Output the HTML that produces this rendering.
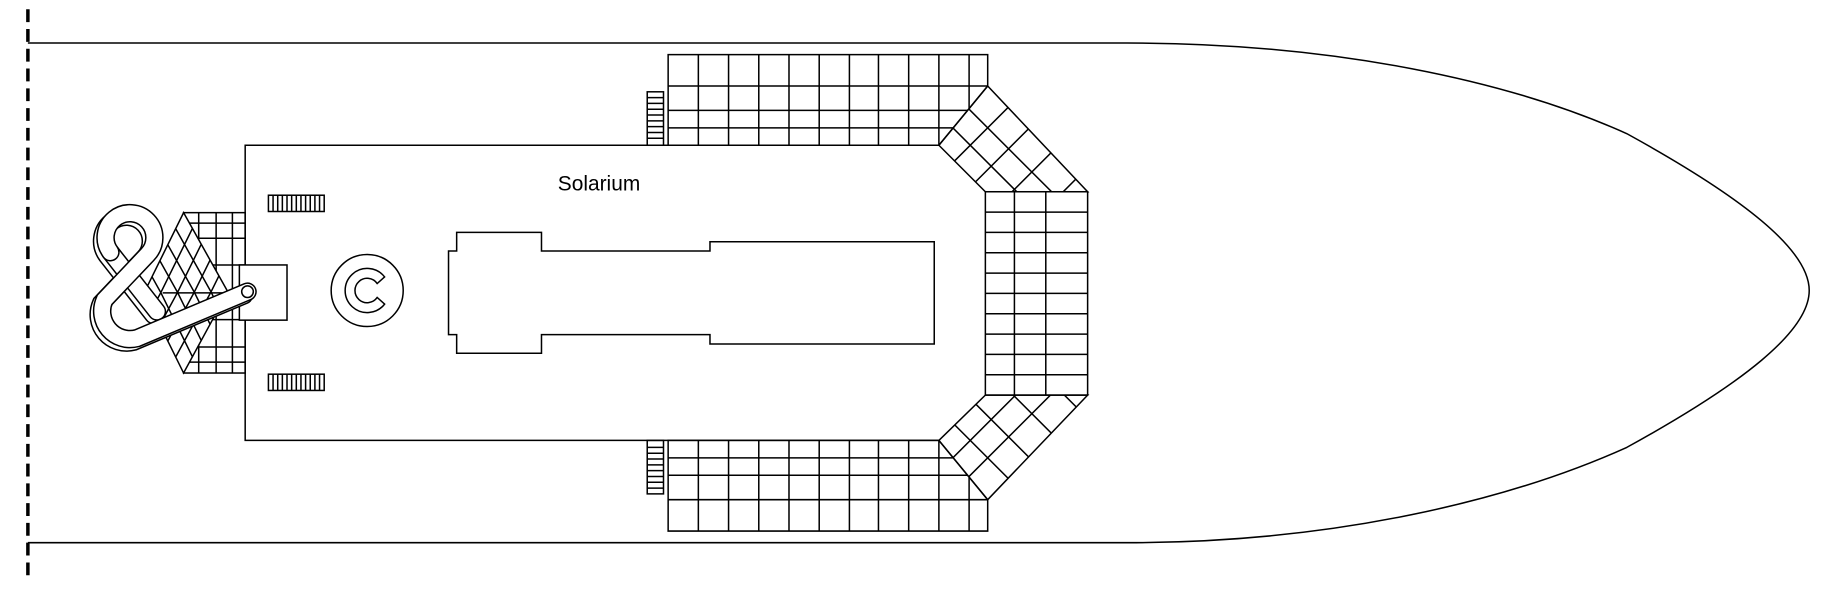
<!DOCTYPE html>
<html><head><meta charset="utf-8"><style>html,body{margin:0;padding:0;background:#fff}svg{display:block}</style></head>
<body>
<svg width="1822" height="598" viewBox="0 0 1568 514.6" preserveAspectRatio="none" xmlns="http://www.w3.org/2000/svg">
<defs>
<clipPath id="dtop"><polygon points="808,125 850,74 936,165 848,165"/></clipPath>
<clipPath id="dbot"><polygon points="808,379 850,430 936,340 848,340"/></clipPath>
<clipPath id="ku"><polygon points="158,183 196,251 124,252"/></clipPath>
<clipPath id="kl"><polygon points="158,321 196,251 124,252"/></clipPath>
</defs>
<g fill="none" stroke="#000" stroke-width="1.3">
<path d="M24,37 L970,37 C1150,37 1300,70 1400,115 C1500,170 1557,215 1557,250 C1557,285 1500,330 1400,385 C1300,430 1150,467 970,467 L24,467"/>
<line x1="24" y1="8" x2="24" y2="497" stroke-width="3" stroke-dasharray="11,6"/>
<path d="M808,125 H211 V379 H808"/>
<polygon points="575,47 850,47 850,74 808,125 575,125"/>
<path d="M575,74 H850 M575,95 H833 M575,110 H820"/>
<path d="M601,47V125 M627,47V125 M653,47V125 M679,47V125 M705,47V125 M731,47V125 M756,47V125 M782,47V125 M808,47V125 M834,47V93"/>
<polygon points="575,457 850,457 850,430 808,379 575,379"/>
<path d="M575,430 H850 M575,409 H833 M575,394 H820"/>
<path d="M601,379V457 M627,379V457 M653,379V457 M679,379V457 M705,379V457 M731,379V457 M756,379V457 M782,379V457 M808,379V457 M834,411V457"/>
<polygon points="808,125 850,74 936,165 848,165"/>
<g clip-path="url(#dtop)">
<path d="M790,120 L900,230 M800,90 L920,210 M820,80 L940,200"/>
<path d="M820,140 L900,60 M838,158 L918,78 M858,178 L938,98 M880,200 L960,120 M902,222 L982,142"/>
</g>
<polygon points="808,379 850,430 936,340 848,340"/>
<g clip-path="url(#dbot)">
<path d="M790,384 L900,274 M800,414 L920,294 M820,424 L940,304"/>
<path d="M820,364 L900,444 M838,346 L918,426 M858,326 L938,406 M880,304 L960,384 M902,282 L982,362"/>
</g>
<rect x="848" y="165" width="88" height="175"/>
<path d="M873,165V340 M900,165V340 M848,182.5H936 M848,200H936 M848,217.5H936 M848,235H936 M848,252.5H936 M848,270H936 M848,287.5H936 M848,305H936 M848,322.5H936"/>
<rect x="557" y="79" width="14" height="46"/>
<path d="M557,84H571 M557,89H571 M557,94H571 M557,99H571 M557,104H571 M557,109H571 M557,114H571 M557,119H571"/>
<rect x="557" y="379" width="14" height="46"/>
<path d="M557,385H571 M557,390H571 M557,395H571 M557,400H571 M557,405H571 M557,410H571 M557,415H571 M557,420H571"/>
<rect x="231" y="168" width="48" height="14"/>
<path d="M235,168V182 M239,168V182 M243,168V182 M247,168V182 M251,168V182 M255,168V182 M259,168V182 M263,168V182 M267,168V182 M271,168V182 M275,168V182"/>
<rect x="231" y="322" width="48" height="14"/>
<path d="M235,322V336 M239,322V336 M243,322V336 M247,322V336 M251,322V336 M255,322V336 M259,322V336 M263,322V336 M267,322V336 M271,322V336 M275,322V336"/>
<path d="M393,200 H466 V216 H611 V208 H804 V296 H611 V288 H466 V304 H393 V288 H386 V216 H393 Z"/>
<circle cx="316" cy="250" r="31"/>
<path d="M331,238.3 A19,19 0 1 0 331,261.7 L324.6,256 A10.5,10.5 0 1 1 324.6,244 Z"/>
<rect x="158" y="183" width="53" height="138"/>
<path d="M158,192H211 M158,205H211 M158,228H211 M158,275H211 M158,298.6H211 M158,311.6H211 M171,183V321 M186,183V321 M200,183V321"/>
<polygon points="158,183 196,251 158,321 124,252" fill="#fff"/>
<g clip-path="url(#ku)">
<path d="M113.2,128.8 L189.2,264.8 M106.4,142.6 L182.4,278.6 M99.6,156.4 L175.6,292.4 M92.8,170.2 L168.8,306.2"/>
<path d="M199.6,127.6 L131.6,265.6 M207.2,141.2 L139.2,279.2 M214.8,154.8 L146.8,292.8 M222.4,168.4 L154.4,306.4"/>
</g>
<g clip-path="url(#kl)">
<path d="M113.2,377.2 L189.2,237.2 M106.4,363.4 L182.4,223.4 M99.6,349.6 L175.6,209.6 M92.8,335.8 L168.8,195.8"/>
<path d="M199.6,376 L131.6,238 M207.2,362 L139.2,224 M214.8,348 L146.8,210 M222.4,334 L154.4,196"/>
</g>
<path d="M140,252 H208"/>
<rect x="206" y="228" width="41" height="47.5" fill="#fff"/>
<g stroke-linecap="round">
<g transform="translate(-3,3)">
<path d="M213,251 L118,291 A24,24 0 0 1 90,258 L127,219 A21,21 0 1 0 95,217 L135,268" stroke-width="16"/>
<path d="M213,251 L118,291 A24,24 0 0 1 90,258 L127,219 A21,21 0 1 0 95,217 L135,268" stroke="#fff" stroke-width="13.4"/>
</g>
<path d="M95,217 L135,268" stroke-width="16"/>
<path d="M95,217 L135,268" stroke="#fff" stroke-width="13.4"/>
<path d="M213,251 L118,291 A24,24 0 0 1 90,258 L127,219 A21,21 0 1 0 95,217" stroke-width="16"/>
<path d="M213,251 L118,291 A24,24 0 0 1 90,258 L127,219 A21,21 0 1 0 95,217" stroke="#fff" stroke-width="13.4"/>
<circle cx="213" cy="251" r="5"/>
</g>
</g>
<text x="480" y="164" font-family="Liberation Sans, sans-serif" font-size="18" fill="#000">Solarium</text>
</svg>
</body></html>
